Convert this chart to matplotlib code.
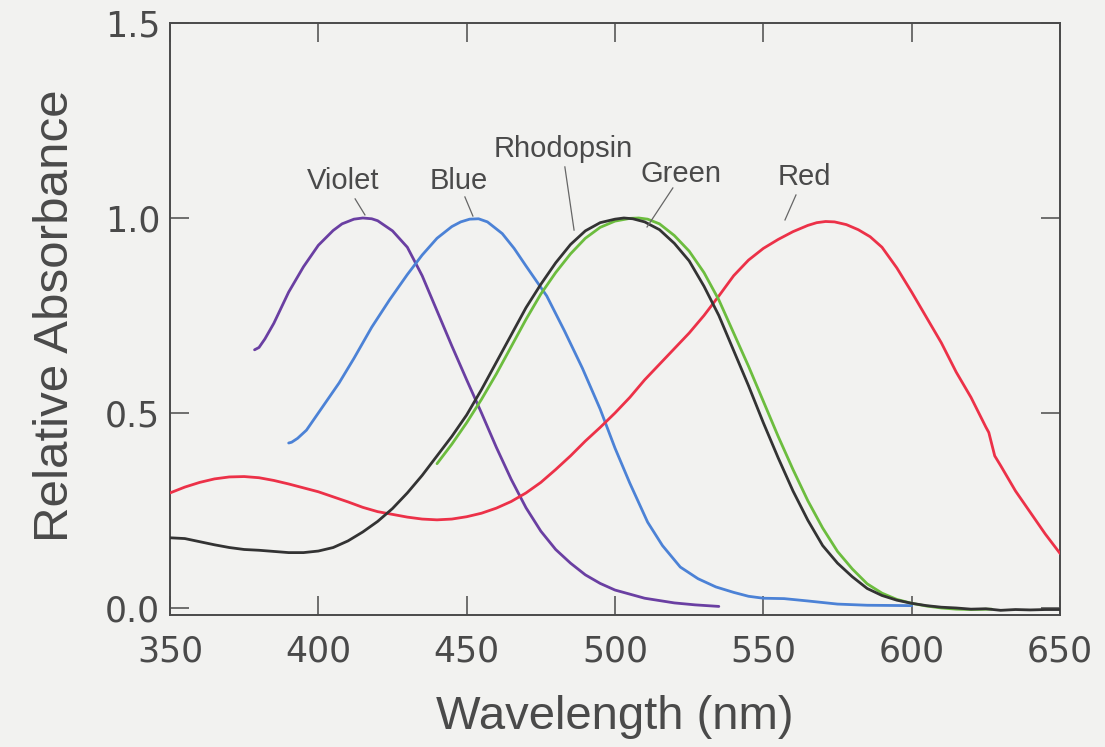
import matplotlib
matplotlib.use("Agg")
import matplotlib.pyplot as plt
import numpy as np

# ---------------- data ----------------
violet_nm = [378.5, 380, 382, 385, 390, 395, 400, 405, 408, 412, 415, 418, 420, 425, 430, 435,
             440, 445, 450, 455, 460, 465, 470, 475, 480, 485, 490, 495, 500, 510, 520, 527, 535]
violet_val = [0.662, 0.668, 0.69, 0.73, 0.81, 0.875, 0.93, 0.968, 0.985, 0.997, 1.0, 0.998,
              0.993, 0.967, 0.925, 0.852, 0.762, 0.672, 0.585, 0.50, 0.412, 0.33, 0.257, 0.197,
              0.15, 0.115, 0.085, 0.063, 0.046, 0.025, 0.013, 0.008, 0.004]

blue_nm = [390, 391, 393, 396, 400, 407, 412, 418, 424, 430, 435, 440, 445, 448, 451, 454, 457,
           462, 466, 470, 477, 483, 489, 495, 500, 505, 511, 516, 522, 528, 534, 540, 545, 550,
           557, 565, 575, 585, 600]
blue_val = [0.423, 0.425, 0.435, 0.456, 0.50, 0.577, 0.64, 0.72, 0.79, 0.855, 0.905, 0.948,
            0.978, 0.99, 0.997, 0.998, 0.99, 0.96, 0.922, 0.877, 0.80, 0.71, 0.615, 0.51, 0.41,
            0.32, 0.22, 0.16, 0.105, 0.075, 0.054, 0.04, 0.03, 0.025, 0.024, 0.018, 0.01, 0.007,
            0.006]

rhod_nm = [350, 355, 360, 365, 370, 375, 380, 385, 390, 395, 400, 405, 410, 415, 420, 425, 430,
           435, 440, 445, 450, 455, 460, 465, 470, 475, 480, 485, 490, 495, 500, 503, 506, 510,
           515, 520, 525, 530, 535, 540, 545, 550, 555, 560, 565, 570, 575, 580, 585, 590, 595,
           600, 605, 610, 615, 620, 625, 630, 635, 640, 645, 650]
rhod_val = [0.18, 0.178, 0.17, 0.162, 0.155, 0.15, 0.148, 0.145, 0.142, 0.142, 0.146, 0.155,
            0.172, 0.195, 0.222, 0.255, 0.295, 0.34, 0.39, 0.44, 0.495, 0.56, 0.63, 0.70, 0.77,
            0.83, 0.885, 0.932, 0.967, 0.988, 0.997, 1.0, 0.998, 0.99, 0.97, 0.935, 0.89, 0.825,
            0.75, 0.66, 0.57, 0.475, 0.385, 0.30, 0.225, 0.16, 0.115, 0.08, 0.05, 0.032, 0.02,
            0.012, 0.006, 0.002, 0.0, -0.003, -0.002, -0.006, -0.004, -0.005, -0.004, -0.004]

green_nm = [440, 445, 450, 455, 460, 465, 470, 475, 480, 485, 490, 495, 500, 505, 508, 511, 515,
            520, 525, 530, 535, 540, 545, 550, 555, 560, 565, 570, 575, 580, 585, 590, 595, 600,
            605, 610, 615, 620, 627]
green_val = [0.37, 0.42, 0.475, 0.535, 0.60, 0.67, 0.74, 0.805, 0.86, 0.908, 0.948, 0.976,
             0.992, 0.999, 1.0, 0.997, 0.985, 0.955, 0.915, 0.86, 0.79, 0.705, 0.62, 0.53, 0.44,
             0.355, 0.275, 0.205, 0.145, 0.10, 0.062, 0.038, 0.022, 0.012, 0.005, 0.0, -0.003,
             -0.004, -0.003]

red_nm = [350, 355, 360, 365, 370, 375, 380, 385, 390, 395, 400, 405, 410, 415, 420, 425, 430,
          435, 440, 445, 450, 455, 460, 465, 470, 475, 480, 485, 490, 495, 500, 505, 510, 515,
          520, 525, 530, 535, 540, 545, 550, 555, 560, 565, 568, 571, 574, 578, 582, 586, 590,
          595, 600, 605, 610, 615, 620, 625, 626, 627, 628, 630, 635, 640, 645, 650]
red_val = [0.295, 0.31, 0.322, 0.331, 0.336, 0.337, 0.334, 0.327, 0.318, 0.308, 0.298, 0.285,
           0.272, 0.258, 0.247, 0.24, 0.233, 0.228, 0.226, 0.228, 0.234, 0.243, 0.256, 0.273,
           0.295, 0.322, 0.355, 0.39, 0.428, 0.463, 0.50, 0.54, 0.585, 0.625, 0.665, 0.705, 0.75,
           0.80, 0.852, 0.892, 0.922, 0.945, 0.965, 0.981, 0.988, 0.991, 0.99, 0.983, 0.97,
           0.952, 0.925, 0.872, 0.81, 0.745, 0.68, 0.605, 0.54, 0.464, 0.45, 0.42, 0.39, 0.365,
           0.30, 0.245, 0.19, 0.14]

labels = ["Violet", "Blue", "Rhodopsin", "Green", "Red"]
x_ticks = [350, 400, 450, 500, 550, 600, 650]
y_ticks = [0.0, 0.5, 1.0, 1.5]
y_tick_labels = ["0.0", "0.5", "1.0", "1.5"]

# ---------------- styling ----------------
bg = "#f2f2f0"
ink = "#4a4a4a"
colors = {"Violet": "#6a3fa2", "Blue": "#4c82d6", "Rhodopsin": "#333333",
          "Green": "#6cbd3e", "Red": "#ec3148"}

fig = plt.figure(figsize=(11.05, 7.47), dpi=100, facecolor=bg)
ax = fig.add_axes([170 / 1105, 1 - 615 / 747, 890 / 1105, 592 / 747])
ax.set_facecolor(bg)

series = [(violet_nm, violet_val, "Violet"), (blue_nm, blue_val, "Blue"),
          (red_nm, red_val, "Red"), (green_nm, green_val, "Green"),
          (rhod_nm, rhod_val, "Rhodopsin")]
for xs, ys, name in series:
    ax.plot(xs, ys, color=colors[name], lw=2.0, solid_capstyle="round",
            solid_joinstyle="round", zorder=3)

ax.set_xlim(350, 650)
ax.set_ylim(-0.018, 1.5)
ax.set_xticks(x_ticks)
ax.set_yticks(y_ticks)
ax.set_yticklabels(y_tick_labels)

for sp in ax.spines.values():
    sp.set_color(ink)
    sp.set_linewidth(1.4)

ax.tick_params(direction="in", length=13.5, width=1.1, color=ink, top=True, right=True,
               labelcolor=ink, labelsize=25)
ax.tick_params(axis="x", pad=14)
ax.tick_params(axis="y", pad=7)
for lab in ax.get_xticklabels() + ax.get_yticklabels():
    lab.set_family("DejaVu Sans")

ax.set_xlabel("Wavelength (nm)", fontsize=34, color=ink, family="Liberation Sans")
ax.set_ylabel("Relative Absorbance", fontsize=35.5, color=ink, family="Liberation Sans")
ax.xaxis.set_label_coords(0.5, -0.135)
ax.yaxis.set_label_coords(-0.103, 0.505)

# ---------------- curve labels with leader lines ----------------
label_pos = {"Violet": (408.3, 1.074), "Blue": (447.4, 1.074), "Rhodopsin": (482.5, 1.156),
             "Green": (522.2, 1.092), "Red": (563.7, 1.085)}
leader = {"Violet": ((412.4, 1.049), (415.7, 1.008)),
          "Blue": ((449.4, 1.054), (452.1, 1.005)),
          "Rhodopsin": ((483.1, 1.131), (486.2, 0.969)),
          "Green": ((519.5, 1.077), (510.8, 0.977)),
          "Red": ((561.0, 1.059), (557.3, 0.995))}
for name in labels:
    tx, ty = label_pos[name]
    ax.text(tx, ty, name, ha="center", va="baseline", fontsize=21, color=ink,
            family="Liberation Sans", zorder=4)
    (x0, y0), (x1, y1) = leader[name]
    ax.plot([x0, x1], [y0, y1], color="#666666", lw=0.9, zorder=4)

fig.savefig("out.png", dpi=100, facecolor=bg)
